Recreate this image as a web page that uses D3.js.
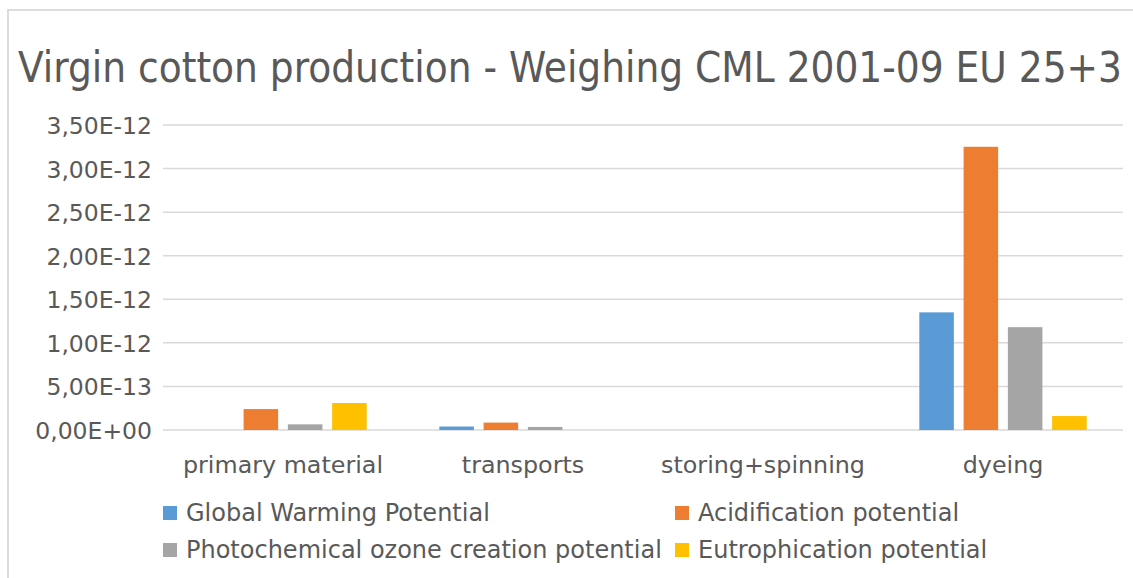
<!DOCTYPE html>
<html>
<head>
<meta charset="utf-8">
<script src="https://cdn.jsdelivr.net/npm/d3@7"></script>
<style>
  html, body { margin: 0; padding: 0; background: #ffffff; }
  svg { display: block; }
  text { font-family: "DejaVu Sans", sans-serif; fill: #595959; }
</style>
</head>
<body>
<svg id="chart" width="1133" height="578"></svg>
<script>
// Processing stages along the x axis
const categories = ["primary material", "transports", "storing+spinning", "dyeing"];

// Impact categories (legend order)
const seriesNames = [
  "Global Warming Potential",
  "Acidification potential",
  "Photochemical ozone creation potential",
  "Eutrophication potential"
];
const seriesColors = ["#5b9bd5", "#ed7d31", "#a5a5a5", "#ffc000"];

// Weighted values per stage, one array per impact category
const globalWarming   = [0,        0.04e-12,  0, 1.35e-12];
const acidification   = [0.24e-12, 0.085e-12, 0, 3.25e-12];
const photochemical   = [0.065e-12, 0.035e-12, 0, 1.18e-12];
const eutrophication  = [0.31e-12, 0,         0, 0.16e-12];

// Value axis ticks and their labels
const tickValues = [0, 0.5e-12, 1.0e-12, 1.5e-12, 2.0e-12, 2.5e-12, 3.0e-12, 3.5e-12];
const tickLabels = ["0,00E+00", "5,00E-13", "1,00E-12", "1,50E-12", "2,00E-12", "2,50E-12", "3,00E-12", "3,50E-12"];

const titleText = "Virgin cotton production - Weighing CML 2001-09 EU 25+3";

const seriesValues = [globalWarming, acidification, photochemical, eutrophication];

const svg = d3.select("#chart");

// outer frame
svg.append("rect")
  .attr("x", 8).attr("y", 10)
  .attr("width", 1140).attr("height", 590)
  .attr("fill", "#ffffff")
  .attr("stroke", "#dcdcdc")
  .attr("stroke-width", 2);

// title
svg.append("text")
  .attr("x", 18).attr("y", 82)
  .attr("textLength", 1104)
  .attr("lengthAdjust", "spacingAndGlyphs")
  .style("font-family", "'DejaVu Sans Condensed', 'DejaVu Sans', sans-serif")
  .style("font-size", "42px")
  .text(titleText);

const plotLeft = 163, plotRight = 1123;

const y = d3.scaleLinear().domain([0, 3.5e-12]).range([430, 125]);

const x0 = d3.scaleBand().domain(categories).range([plotLeft, plotRight]).paddingInner(0).paddingOuter(0);
const x1 = d3.scaleBand().domain(d3.range(seriesNames.length))
  .range([0, x0.bandwidth()]).paddingInner(0.22).paddingOuter(0.82);

// gridlines
svg.append("g").selectAll("line")
  .data(tickValues)
  .join("line")
  .attr("x1", plotLeft).attr("x2", plotRight)
  .attr("y1", d => y(d)).attr("y2", d => y(d))
  .attr("stroke", "#d9d9d9")
  .attr("stroke-width", 1.5);

// y axis labels
const yAxis = d3.axisLeft(y)
  .tickValues(tickValues)
  .tickFormat((d, i) => tickLabels[i])
  .tickSize(0)
  .tickPadding(0);
const yg = svg.append("g").attr("transform", "translate(152,0)").call(yAxis);
yg.select(".domain").remove();
yg.selectAll("text")
  .style("font-family", "'DejaVu Sans', sans-serif")
  .style("font-size", "23.5px")
  .attr("fill", "#595959")
  .attr("dy", "0.36em");

// bars
const groups = svg.append("g").selectAll("g")
  .data(categories)
  .join("g")
  .attr("transform", d => `translate(${x0(d)},0)`);

groups.selectAll("rect")
  .data((d, ci) => seriesValues.map((vals, si) => ({ si, v: vals[ci] })))
  .join("rect")
  .attr("x", d => x1(d.si))
  .attr("width", x1.bandwidth())
  .attr("y", d => y(d.v))
  .attr("height", d => y(0) - y(d.v))
  .attr("fill", d => seriesColors[d.si]);

// category axis labels
const xAxis = d3.axisBottom(x0).tickSize(0).tickPadding(0);
const xg = svg.append("g").attr("transform", "translate(0,473)").call(xAxis);
xg.select(".domain").remove();
xg.selectAll("text")
  .style("font-family", "'DejaVu Sans', sans-serif")
  .style("font-size", "23.8px")
  .attr("fill", "#595959")
  .attr("dy", 0)
  .attr("y", 0);

// legend: two columns, two rows
const legendCols = [163, 675];
const legendRows = [506, 543];
const legend = svg.append("g").selectAll("g")
  .data(seriesNames)
  .join("g")
  .attr("transform", (d, i) => `translate(${legendCols[i % 2]},${legendRows[Math.floor(i / 2)]})`);
legend.append("rect")
  .attr("width", 14).attr("height", 14)
  .attr("fill", (d, i) => seriesColors[i]);
legend.append("text")
  .attr("x", 23).attr("y", 15)
  .style("font-size", "24px")
  .text(d => d);
</script>
</body>
</html>
